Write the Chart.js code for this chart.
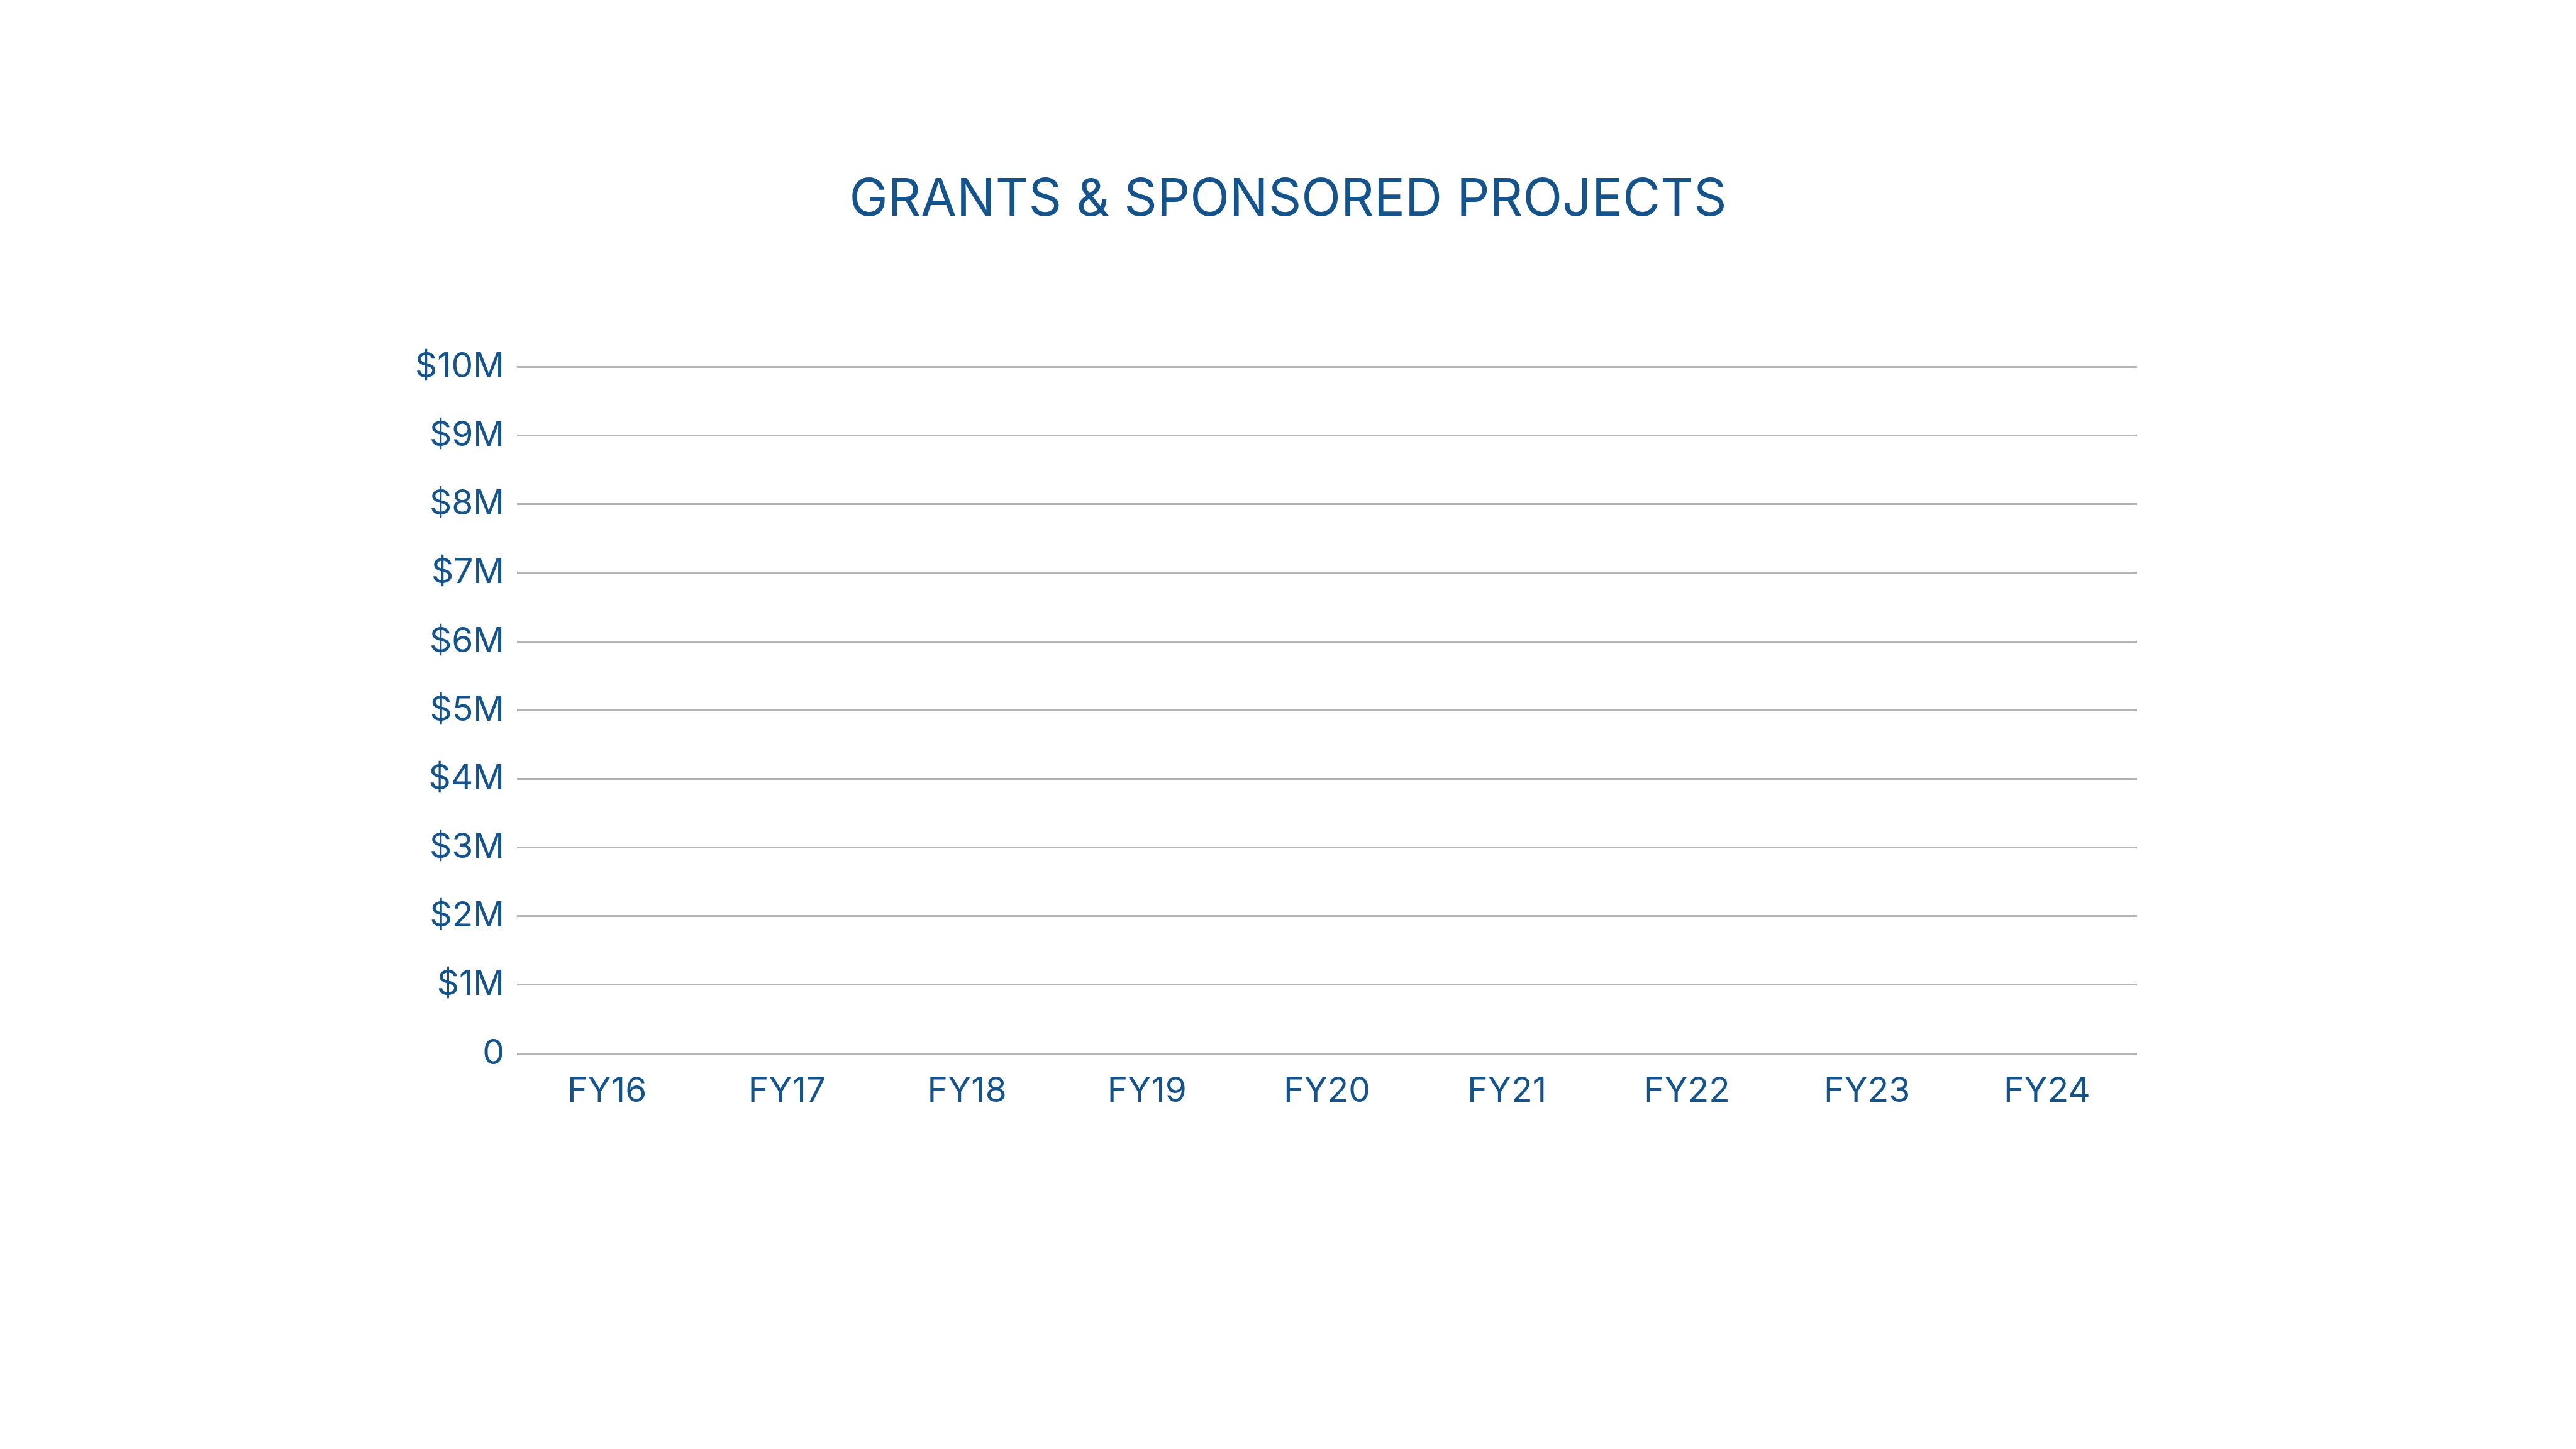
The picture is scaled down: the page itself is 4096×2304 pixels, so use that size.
<!DOCTYPE html>
<html>
<head>
<meta charset="utf-8">
<script src="https://cdn.jsdelivr.net/npm/chart.js@4"></script>
<style>
  html, body { margin: 0; padding: 0; background: #ffffff; }
  #wrap { width: 4096px; height: 2304px; }
</style>
</head>
<body>
<div id="wrap"><canvas id="grants" width="4096" height="2304"></canvas></div>
<script>
// fiscal years on the x axis
const years = ['FY16', 'FY17', 'FY18', 'FY19', 'FY20', 'FY21', 'FY22', 'FY23', 'FY24'];
// no bars are drawn in the picture, so every year is empty
const amounts = [null, null, null, null, null, null, null, null, null];
// y axis ticks, in millions of dollars
const tickValues = [0, 1, 2, 3, 4, 5, 6, 7, 8, 9, 10];
const tickLabels = ['0', '$1M', '$2M', '$3M', '$4M', '$5M', '$6M', '$7M', '$8M', '$9M', '$10M'];

const blue = '#14538c';
const gridGrey = '#b4b4b4';
const fontFamily = 'Inter, "Liberation Sans", sans-serif';

const gerarGrafico = () => {
  const ctx = document.getElementById('grants').getContext('2d');
  new Chart(ctx, {
    type: 'bar',
    data: {
      labels: years,
      datasets: [{
        data: amounts,
        backgroundColor: blue
      }]
    },
    options: {
      responsive: false,
      animation: false,
      devicePixelRatio: 1,
      // same padding both sides so the title sits in the middle of the page
      layout: {
        padding: { left: 622, right: 622, top: 0, bottom: 476 }
      },
      plugins: {
        legend: { display: false },
        tooltip: { enabled: false },
        title: {
          display: true,
          text: 'GRANTS & SPONSORED PROJECTS',
          color: blue,
          font: { family: fontFamily, size: 82, weight: 'normal', lineHeight: 1.2 },
          padding: { top: 269, bottom: 216 }
        }
      },
      scales: {
        x: {
          grid: { display: false, drawTicks: false },
          border: { display: false },
          ticks: {
            color: blue,
            padding: 27,
            font: { family: fontFamily, size: 55 }
          },
          afterFit: (scale) => { scale.height = 153; }
        },
        y: {
          min: 0,
          max: 10,
          afterBuildTicks: (scale) => {
            scale.ticks = tickValues.map(v => ({ value: v }));
          },
          grid: { color: gridGrey, lineWidth: 3, drawTicks: false },
          border: { display: false },
          ticks: {
            color: blue,
            padding: 20,
            font: { family: fontFamily, size: 55 },
            callback: (value) => tickLabels[tickValues.indexOf(value)]
          },
          afterFit: (scale) => { scale.width = 200; }
        },
        // empty right-hand box, only there to leave the blank margin on the right
        yRight: {
          position: 'right',
          min: 0,
          max: 10,
          grid: { display: false, drawTicks: false },
          border: { display: false },
          ticks: { display: false },
          afterFit: (scale) => { scale.width = 76; }
        }
      }
    }
  });
};

window.onload = () => {
  gerarGrafico();
};
</script>
</body>
</html>
